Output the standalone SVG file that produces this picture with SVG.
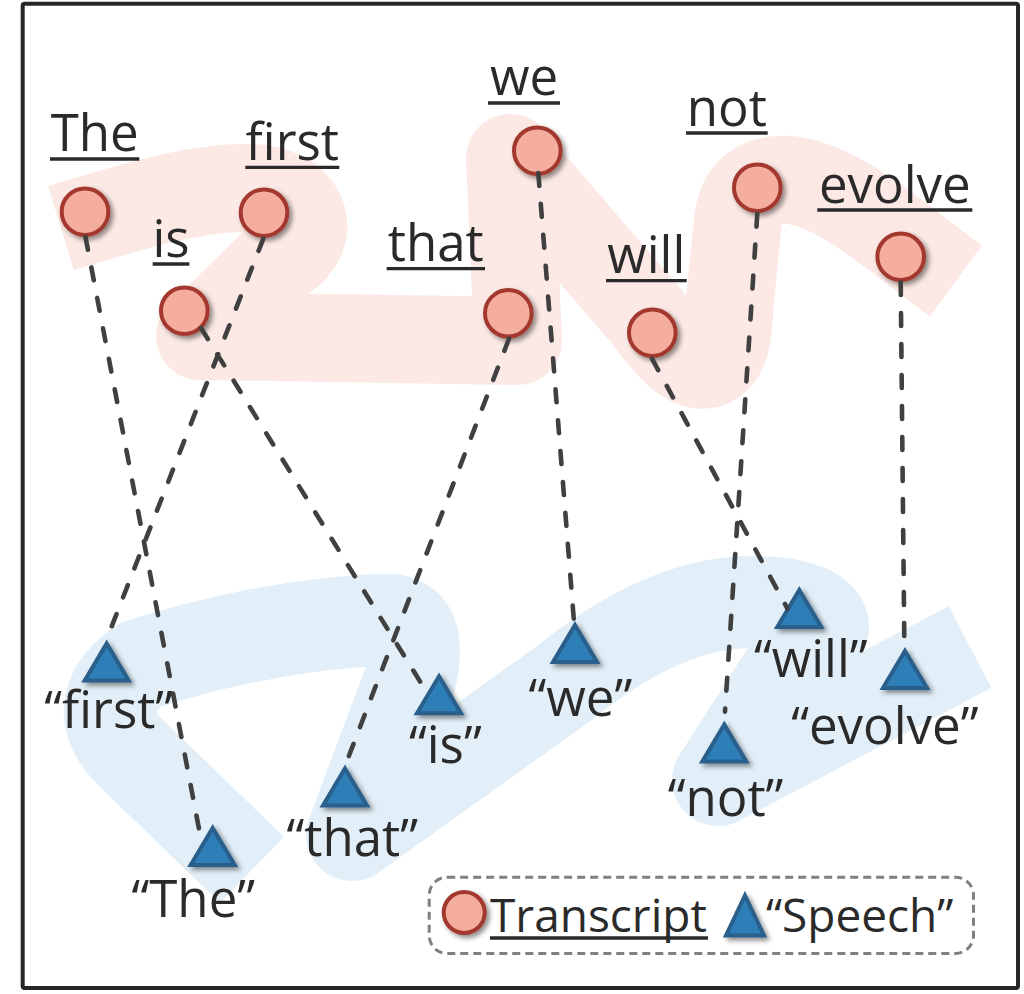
<svg xmlns="http://www.w3.org/2000/svg" width="1024" height="994" viewBox="0 0 1024 994">
<defs>
<filter id="sh" x="-40%" y="-40%" width="180%" height="180%">
<feDropShadow dx="3" dy="3" stdDeviation="2.5" flood-color="#000" flood-opacity="0.45"/>
</filter>
<style>
.lbl{font-family:"Open Sans","Liberation Sans",sans-serif;font-size:51px;font-weight:400;fill:#2a2a2a;text-anchor:middle}
.leg{font-family:"Open Sans","Liberation Sans",sans-serif;font-size:46px;font-weight:400;fill:#2a2a2a}
.ul{stroke:#2a2a2a;stroke-width:3.3}
.c{fill:#F5AE9D;stroke:#A3392E;stroke-width:4;filter:url(#sh)}
.t{fill:#2E7FB8;stroke:#295E8B;stroke-width:4;stroke-linejoin:miter;filter:url(#sh)}
.conn{stroke:#404040;stroke-width:4.6;stroke-linecap:round;stroke-dasharray:13 18;fill:none}
.band{fill:none;stroke-linejoin:round;stroke-linecap:butt}
</style>
</defs>
<rect width="1024" height="994" fill="#fff"/>
<g id="bands">
<path class="band" stroke="#FCE9E5" stroke-width="88" d="M61,228 C120,210 190,188 245,188 C305,186 325,238 275,262 L200,336 L518,341 L510,158 L648,318 C672,352 690,368 708,364 C728,358 728,330 730,300 L738,220 C742,190 760,178 790,180 C840,185 900,240 956,281"/>
<path class="band" stroke="#E2EFF8" stroke-width="92" d="M252,870 L130,752 Q85,705 140,665 C200,645 300,622 385,620 Q425,618 410,680 L352,835 L563,684 C630,630 690,603 750,602 C800,600 855,620 800,652 L718,780 L970,647"/>
</g>
<g id="frame"><rect x="22.7" y="3.7" width="995.3" height="984.3" rx="2" fill="none" stroke="#262626" stroke-width="4"/></g>

<g id="transcript-the"><circle class="c" cx="85" cy="211.7" r="23.3"/><text class="lbl" x="94.7" y="151">The</text><line class="ul" x1="50" y1="159" x2="139.3" y2="159"/></g>
<g id="transcript-first"><circle class="c" cx="264" cy="212.7" r="23.3"/><text class="lbl" x="292.3" y="160">first</text><line class="ul" x1="245.3" y1="167.3" x2="339.3" y2="167.3"/></g>
<g id="transcript-is"><circle class="c" cx="184.3" cy="310.7" r="23.3"/><text class="lbl" x="171" y="256.7">is</text><line class="ul" x1="152.7" y1="264" x2="189.3" y2="264"/></g>
<g id="transcript-that"><circle class="c" cx="508.3" cy="313.3" r="23.3"/><text class="lbl" x="435.8" y="261">that</text><line class="ul" x1="386.7" y1="268.7" x2="485" y2="268.7"/></g>
<g id="transcript-we"><circle class="c" cx="537.3" cy="150.7" r="23.3"/><text class="lbl" x="524" y="95">we</text><line class="ul" x1="488" y1="103" x2="560" y2="103"/></g>
<g id="transcript-will"><circle class="c" cx="652.3" cy="332.7" r="23.3"/><text class="lbl" x="646.3" y="273.3">will</text><line class="ul" x1="606" y1="280.7" x2="686.7" y2="280.7"/></g>
<g id="transcript-not"><circle class="c" cx="757.3" cy="187.7" r="23.3"/><text class="lbl" x="726.8" y="125.7">not</text><line class="ul" x1="686" y1="133" x2="767.7" y2="133"/></g>
<g id="transcript-evolve"><circle class="c" cx="900.7" cy="256.7" r="23.3"/><text class="lbl" x="894.8" y="203.3">evolve</text><line class="ul" x1="817.3" y1="210" x2="972.3" y2="210"/></g>

<g id="speech-first"><polygon class="t" points="106.7,643.5 128.7,680.5 84.7,680.5"/><text class="lbl" x="108.7" y="728.3">“first”</text></g>
<g id="speech-the"><polygon class="t" points="212.7,828 234.7,865 190.7,865"/><text class="lbl" x="193.3" y="917.3">“The”</text></g>
<g id="speech-that"><polygon class="t" points="345,768.5 367,805.5 323,805.5"/><text class="lbl" x="352.2" y="856">“that”</text></g>
<g id="speech-is"><polygon class="t" points="439,676.3 461,713.3 417,713.3"/><text class="lbl" x="445.3" y="763.3">“is”</text></g>
<g id="speech-we"><polygon class="t" points="575,625 597,662 553,662"/><text class="lbl" x="580.3" y="715.7">“we”</text></g>
<g id="speech-will"><polygon class="t" points="799.3,590 821.3,627 777.3,627"/><text class="lbl" x="810.8" y="676.7">“will”</text></g>
<g id="speech-evolve"><polygon class="t" points="905,651 927,688 883,688"/><text class="lbl" x="884.8" y="744">“evolve”</text></g>
<g id="speech-not"><polygon class="t" points="724.3,724.5 746.3,761.5 702.3,761.5"/><text class="lbl" x="725.5" y="816">“not”</text></g>

<g id="connectors">
<line class="conn" x1="85.5" y1="237" x2="200" y2="834"/>
<line class="conn" x1="263.3" y1="238.7" x2="110" y2="630.7"/>
<line class="conn" x1="201" y1="328" x2="423.3" y2="686.7"/>
<line class="conn" x1="509" y1="338.7" x2="346.7" y2="761.7"/>
<line class="conn" x1="538.3" y1="173" x2="574" y2="621.7"/>
<line class="conn" x1="652" y1="358.7" x2="787.3" y2="608.3"/>
<line class="conn" x1="757.3" y1="213.7" x2="725" y2="711.7"/>
<line class="conn" x1="900.7" y1="282" x2="904.3" y2="640"/>
</g>

<g id="legend">
<rect x="429.2" y="877.2" width="544.3" height="76.3" rx="18" fill="none" stroke="#808080" stroke-width="3" stroke-dasharray="8 5"/>
<circle class="c" cx="464.2" cy="912.5" r="20.5"/>
<text class="leg" x="490" y="931.7">Transcript</text>
<line class="ul" x1="490" y1="938" x2="708" y2="938"/>
<polygon class="t" points="745,895.5 764,935.5 726,935.5"/>
<text class="leg" x="766" y="931.7">“Speech”</text>
</g>
</svg>
